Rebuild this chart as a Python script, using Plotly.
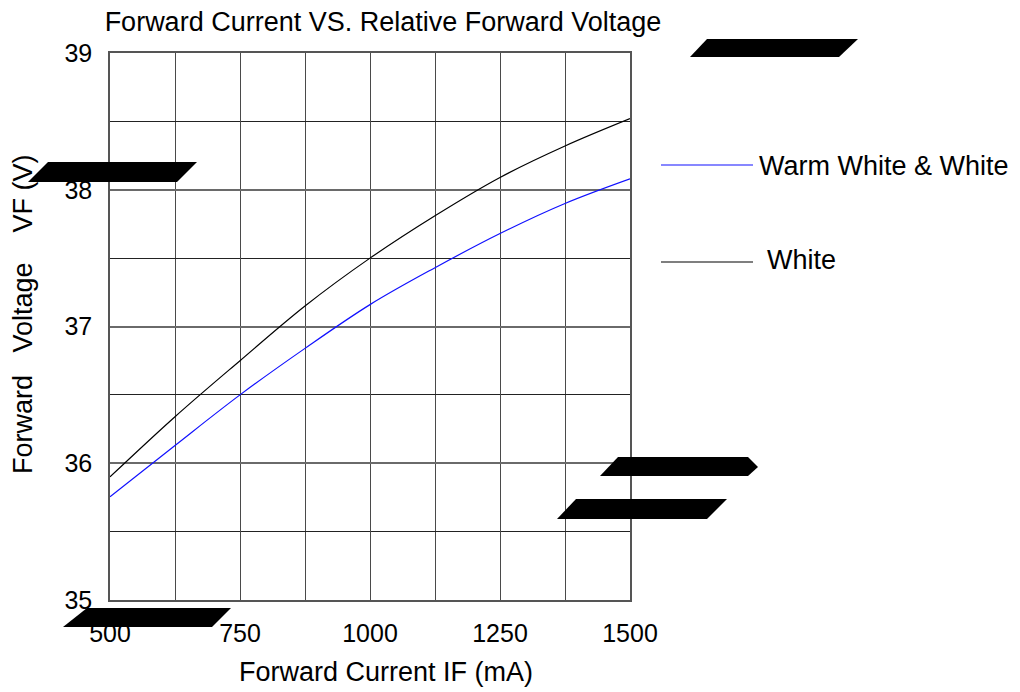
import plotly.graph_objects as go

# ---- data ----
current_ma = [500, 625, 750, 875, 1000, 1125, 1250, 1375, 1500]
vf_white = [35.90, 36.34, 36.75, 37.15, 37.50, 37.81, 38.09, 38.32, 38.52]
vf_warm_white = [35.755, 36.13, 36.50, 36.84, 37.16, 37.43, 37.68, 37.90, 38.08]
x_ticks = [500, 750, 1000, 1250, 1500]
y_ticks = [35, 36, 37, 38, 39]

FONT = "Arial, Liberation Sans, sans-serif"
OFF = 8  # page body margin of the browser
W, H = 1020, 692
L, R, T, B = 110, 390, 53, 92
PW, PH = W - L - R, H - T - B


def px2x(px):
    return (px - L) / PW


def py2y(py):
    return (H - B - py) / PH


fig = go.Figure()
fig.add_trace(go.Scatter(x=current_ma, y=vf_white, mode="lines", name="White",
                         line=dict(color="black", width=1.2, shape="spline"),
                         showlegend=False))
fig.add_trace(go.Scatter(x=current_ma, y=vf_warm_white, mode="lines",
                         name="Warm White & White",
                         line=dict(color="#1010ff", width=1.2, shape="spline"),
                         showlegend=False))

grid = "#4a4a4a"
fig.update_xaxes(range=[500, 1500], tickvals=x_ticks, showgrid=True,
                 gridcolor=grid, gridwidth=1.2,
                 minor=dict(tick0=500, dtick=125, showgrid=True, gridcolor=grid, gridwidth=1.2),
                 showline=True, mirror=True, linecolor="#555", linewidth=1.5,
                 zeroline=False, ticks="", ticklabelstandoff=10,
                 tickfont=dict(family=FONT, size=25, color="black"))
fig.update_yaxes(range=[35, 39], tickvals=y_ticks, showgrid=True,
                 gridcolor="#6a6a6a", gridwidth=1.5,
                 minor=dict(tick0=35, dtick=0.5, showgrid=True, gridcolor="#222", gridwidth=1.1),
                 showline=True, mirror=True, linecolor="#555", linewidth=1.5,
                 zeroline=False, ticks="", ticklabelstandoff=11,
                 tickfont=dict(family=FONT, size=25, color="black"))

annotations = [
    dict(text="Forward Current IF (mA)", x=px2x(386), y=py2y(672), xref="paper", yref="paper",
         xanchor="center", yanchor="middle", showarrow=False,
         font=dict(family=FONT, size=27, color="black")),
    dict(text="Forward\u00a0\u00a0 Voltage\u00a0\u00a0\u00a0 VF (V)", x=px2x(23), y=py2y(314),
         xref="paper", yref="paper", textangle=-90,
         xanchor="center", yanchor="middle", showarrow=False,
         font=dict(family=FONT, size=27, color="black")),
    dict(text="Warm White & White", x=px2x(757), y=py2y(166), xref="paper", yref="paper",
         xanchor="left", yanchor="middle", showarrow=False,
         font=dict(family=FONT, size=27, color="black")),
    dict(text="White", x=px2x(765), y=py2y(260), xref="paper", yref="paper",
         xanchor="left", yanchor="middle", showarrow=False,
         font=dict(family=FONT, size=27, color="black")),
]

shapes = [
    dict(type="line", xref="paper", yref="paper", x0=px2x(661), x1=px2x(753),
         y0=py2y(165), y1=py2y(165), line=dict(color="#1010ff", width=1.2)),
    dict(type="line", xref="paper", yref="paper", x0=px2x(661), x1=px2x(753),
         y0=py2y(262), y1=py2y(262), line=dict(color="black", width=1.2)),
]

# black redaction blocks (pixel polygons in the reference picture)
blocks = [
    [(690, 57), (707, 39), (858, 39), (839, 57)],
    [(28, 182), (48, 162), (197, 162), (177, 182)],
    [(63, 627), (87, 608), (231, 608), (212, 627)],
    [(600, 476), (618, 457), (748, 457), (758, 467), (748, 476)],
    [(557, 519), (576, 499), (727, 499), (707, 519)],
]
for poly in blocks:
    path = "M " + " L ".join(f"{px2x(a):.5f},{py2y(b):.5f}" for a, b in poly) + " Z"
    shapes.append(dict(type="path", xref="paper", yref="paper", path=path,
                       fillcolor="black", line=dict(color="black", width=0), layer="above"))

fig.update_layout(
    width=W - OFF, height=H - OFF,
    margin=dict(l=L - OFF, r=R, t=T - OFF, b=B),
    paper_bgcolor="white", plot_bgcolor="white",
    title=dict(text="Forward Current VS. Relative Forward Voltage",
               x=(383 - OFF) / (W - OFF), xanchor="center", xref="container",
               y=1 - (22 - OFF) / (H - OFF), yanchor="middle", yref="container",
               font=dict(family=FONT, size=27, color="black")),
    annotations=annotations,
    shapes=shapes,
    showlegend=False,
)

fig.write_html("out.html")
